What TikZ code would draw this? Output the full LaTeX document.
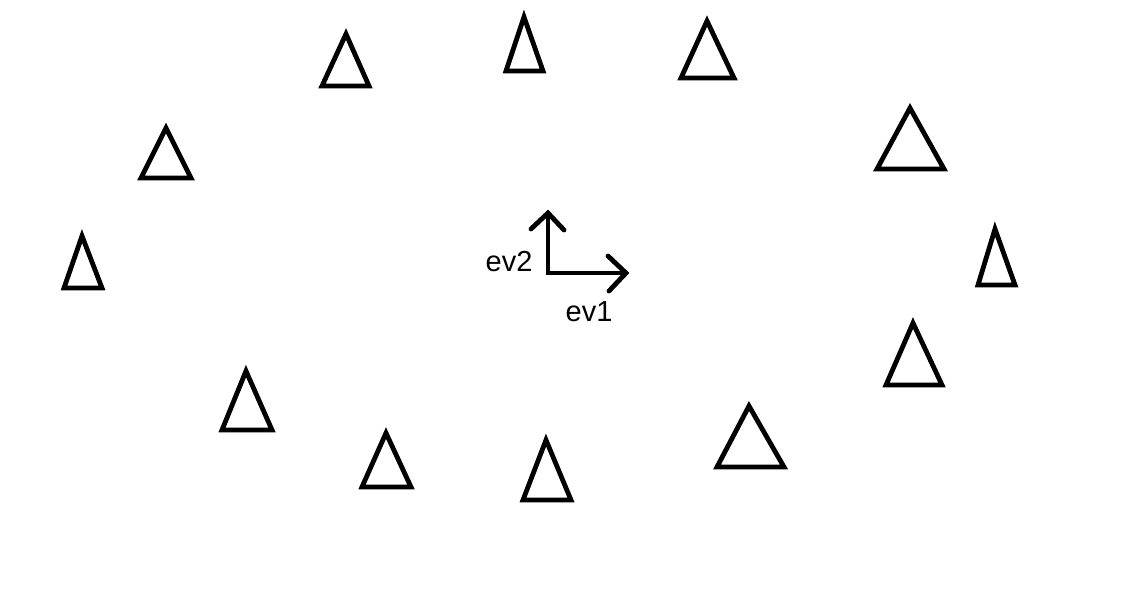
\documentclass[tikz,border=0pt]{standalone}
\usepackage{fontspec}
\setmainfont{Liberation Sans}
\begin{document}
\begin{tikzpicture}[x=1pt,y=-1pt,
  tri/.style={line width=4.8pt,line join=miter,draw=black},
  vec/.style={line width=4.8pt,line cap=round,draw=black},
  lbl/.style={font=\fontsize{29}{32}\selectfont,inner sep=0pt}]
\useasboundingbox[fill=white] (0,0) rectangle (1146,590);
\draw[tri] (346,34) -- (369,86) -- (322,86) -- cycle;
\draw[tri] (524,17) -- (543,71) -- (506,71) -- cycle;
\draw[tri] (707,21) -- (734,78) -- (681,78) -- cycle;
\draw[tri] (166,128) -- (191,178) -- (141,178) -- cycle;
\draw[tri] (910,108) -- (944,169) -- (877,169) -- cycle;
\draw[tri] (82,236) -- (102,288) -- (64,288) -- cycle;
\draw[tri] (995,229) -- (1015,285) -- (978,285) -- cycle;
\draw[tri] (913,323) -- (942,385) -- (886,385) -- cycle;
\draw[tri] (246,371) -- (272,430) -- (222,430) -- cycle;
\draw[tri] (386,433) -- (411,487) -- (362,487) -- cycle;
\draw[tri] (546,440) -- (571,500) -- (523,500) -- cycle;
\draw[tri] (749,406) -- (784,467) -- (717,467) -- cycle;
\coordinate (o) at (548,273);
\coordinate (t2) at (548,213);
\coordinate (t1) at (626,273);
\coordinate (h2a) at (531,229);
\coordinate (h2b) at (564,230);
\coordinate (h1a) at (608,256);
\coordinate (h1b) at (609,291);
\draw[vec] (t2) -- (o) -- (t1);
\draw[vec] (h2a) -- (t2) -- (h2b);
\draw[vec] (h1a) -- (t1) -- (h1b);
\node[lbl] (ev2) at (509,262) {ev2};
\node[lbl] (ev1) at (589,312) {ev1};
\end{tikzpicture}
\end{document}
